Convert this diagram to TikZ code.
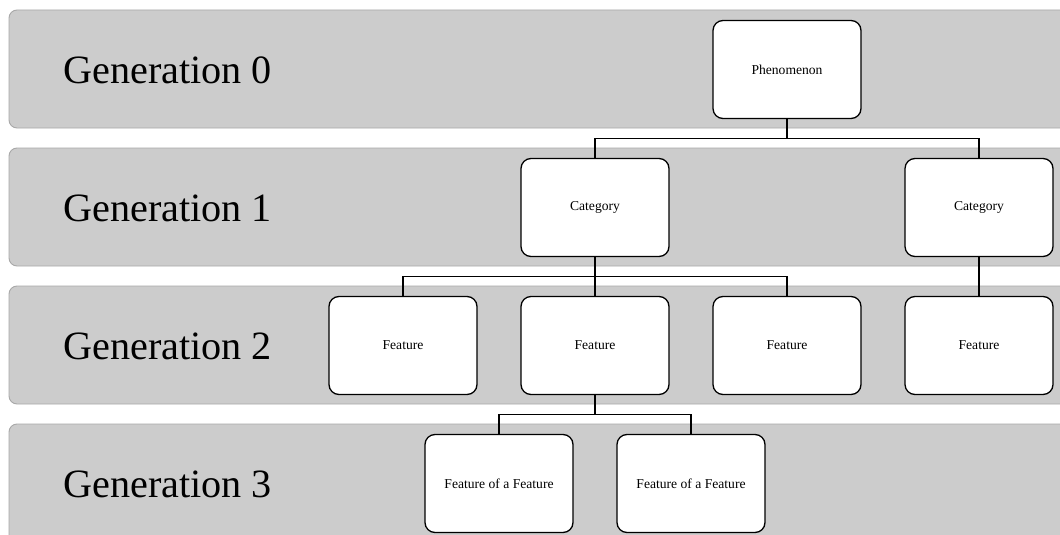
\documentclass[tikz,border=0pt]{standalone}
\usepackage{fontspec}
\setmainfont{Liberation Serif}
\definecolor{bandfill}{HTML}{CCCCCC}
\definecolor{bandline}{HTML}{A8A8A8}
\begin{document}
\begin{tikzpicture}[x=1pt,y=-1pt,
  band/.style={fill=bandfill, draw=bandline, line width=0.9pt, rounded corners=8pt},
  genlabel/.style={anchor=base west, inner sep=0pt, font=\fontsize{40.2}{48}\selectfont},
  box/.style={draw=black, fill=white, line width=1.3pt, rounded corners=10pt,
    minimum width=148pt, minimum height=98pt, inner sep=0pt,
    font=\fontsize{13.6}{16}\selectfont},
  conn/.style={draw=black, line width=1.3pt}]
\useasboundingbox (0,0) rectangle (1060,535);
\clip (0,0) rectangle (1060,535);
% bands
\draw[band] (9,10) rectangle (1090,128);
\draw[band] (9,148) rectangle (1090,266);
\draw[band] (9,286) rectangle (1090,404);
\draw[band] (9,424) rectangle (1090,560);
% generation labels
\node[genlabel] (g0) at (63,83) {Generation 0};
\node[genlabel] (g1) at (63,221) {Generation 1};
\node[genlabel] (g2) at (63,359) {Generation 2};
\node[genlabel] (g3) at (63,497) {Generation 3};
% boxes
\node[box] (phen) at (787,69.5) {Phenomenon};
\node[box] (cat1) at (595,207.5) {Category};
\node[box] (cat2) at (979,207.5) {Category};
\node[box] (f1) at (403,345.5) {Feature};
\node[box] (f2) at (595,345.5) {Feature};
\node[box] (f3) at (787,345.5) {Feature};
\node[box] (f4) at (979,345.5) {Feature};
\node[box] (ff1) at (499,483.5) {Feature of a Feature};
\node[box] (ff2) at (691,483.5) {Feature of a Feature};
% connectors
\draw[conn] (phen.south) -- ++(0,19.5) -| (cat1.north);
\draw[conn] (phen.south) -- ++(0,19.5) -| (cat2.north);
\draw[conn] (cat1.south) -- ++(0,19.5) -| (f1.north);
\draw[conn] (cat1.south) -- (f2.north);
\draw[conn] (cat1.south) -- ++(0,19.5) -| (f3.north);
\draw[conn] (cat2.south) -- (f4.north);
\draw[conn] (f2.south) -- ++(0,19.5) -| (ff1.north);
\draw[conn] (f2.south) -- ++(0,19.5) -| (ff2.north);
\end{tikzpicture}
\end{document}
